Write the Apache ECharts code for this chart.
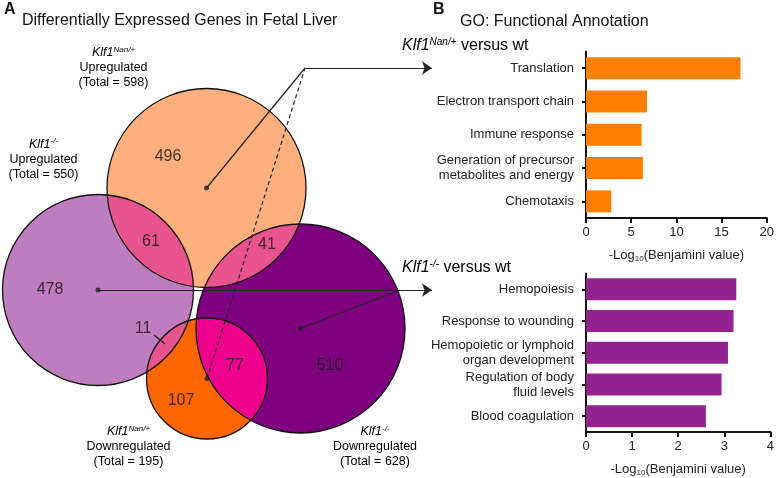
<!DOCTYPE html>
<html><head><meta charset="utf-8">
<script src="https://cdn.jsdelivr.net/npm/echarts@6/dist/echarts.min.js"></script>
<style>html,body{margin:0;padding:0;background:#fff}#c{width:777px;height:478px}</style>
</head><body><div id="c"></div>
<script>
// ---- Venn data (diagram units) ----
const vennCircles = [[206.5,188,99.5],[98,290,95.5],[300.5,328.5,104.5],[207,378.5,60.5]]; // [cx, cy, r]
const vennColors = ['#FDAF7E','#BE7DBE','#7F007F','#FF6600'];
const vennOverlaps = [[0,1],[0,2],[1,3],[2,3]];
const overlapColors = ['#E9548C','#E9548C','#E9548C','#EC008C'];
const regionCounts = [496,61,41,478,11,77,510,107];
const regionPos = [[168,157],[151,242],[267,245],[50,290],[143,329],[235,366],[330,366],[181,401]];
const arrowPaths = [[[305,68],[432,68]], [[98,290],[432,290]]];
const plainPaths = [[[206.5,188],[305,68]], [[300.5,328.5],[400,290]], [[154,335],[165,344]]];
const dashedPaths = [[[207,378.5],[305,68]]];

// ---- Bar data ----
const catNan = ['Translation','Electron transport chain','Immune response','Generation of precursor\nmetabolites and energy','Chemotaxis'];
const valNan = [17.1,6.75,6.15,6.3,2.8];
const catKo = ['Hemopoiesis','Response to wounding','Hemopoietic or lymphoid\norgan development','Regulation of body\nfluid levels','Blood coagulation'];
const valKo = [3.26,3.2,3.08,2.94,2.6];
const ticksNan = [0,5,10,15,20];
const ticksKo = [0,1,2,3,4];

const FF = "'Liberation Sans', Arial, Helvetica, sans-serif";
const chart = echarts.init(document.getElementById('c'));

function lensPoints(a, b, api) {
  const pa = api.coord([a[0], a[1]]), pb = api.coord([b[0], b[1]]);
  const r1 = api.size([a[2], a[2]])[0], r2 = api.size([b[2], b[2]])[0];
  const dx = pb[0]-pa[0], dy = pb[1]-pa[1];
  const d = Math.sqrt(dx*dx+dy*dy);
  const th = Math.atan2(dy, dx);
  const al = Math.acos((d*d + r1*r1 - r2*r2)/(2*d*r1));
  const be = Math.acos((d*d + r2*r2 - r1*r1)/(2*d*r2));
  const pts = [], N = 60;
  for (let k=0;k<=N;k++){ const t = th-al + 2*al*k/N; pts.push([pa[0]+r1*Math.cos(t), pa[1]+r1*Math.sin(t)]); }
  for (let k=0;k<=N;k++){ const t = th+Math.PI-be + 2*be*k/N; pts.push([pb[0]+r2*Math.cos(t), pb[1]+r2*Math.sin(t)]); }
  return pts;
}

function circleRender(fillMode) {
  return function (params, api) {
    const p = api.coord([api.value(0), api.value(1)]);
    const r = api.size([api.value(2), api.value(2)])[0];
    return {type:'circle', shape:{cx:p[0], cy:p[1], r:r},
      style: fillMode ? {fill: vennColors[params.dataIndex], stroke:null} : {fill:'none', stroke:'#111', lineWidth:1.3}};
  };
}

const axisBase = {
  axisLine:{show:true, lineStyle:{color:'#111', width:2}},
  axisTick:{show:true, length:5, lineStyle:{color:'#111', width:2}},
  splitLine:{show:false}
};
const nameRich = {
  n:{fontSize:13, fontFamily:FF, color:'#222', lineHeight:15},
  sub:{fontSize:8, fontFamily:FF, color:'#222', lineHeight:7, verticalAlign:'bottom'}
};
const axisName = '{n|-Log}{sub|10}{n|(Benjamini value)}';

function supLabel(x, y, sup, lines, size, lh, supSize) {
  let t = '{i|Klf1}{s|' + sup + '}';
  lines.forEach(l => { t += '\n{n|' + l + '}'; });
  return {type:'text', x:x, y:y, z:100, style:{text:t, align:'center', textAlign:'center', verticalAlign:'middle', textVerticalAlign:'middle',
    rich:{
      i:{fontSize:size, fontStyle:'italic', fontFamily:FF, color:'#111', lineHeight:lh},
      s:{fontSize:supSize, fontStyle:'italic', fontFamily:FF, color:'#111', lineHeight:Math.round(lh/2), verticalAlign:'top'},
      n:{fontSize:size, fontFamily:FF, color:'#111', lineHeight:lh}
    }}};
}
function headLabel(x, y, sup) {
  return {type:'text', x:x, y:y, z:100, style:{text:'{i|Klf1}{s|' + sup + '}{n| versus wt}', align:'left', textAlign:'left', verticalAlign:'middle', textVerticalAlign:'middle',
    rich:{
      i:{fontSize:16, fontStyle:'italic', fontFamily:FF, color:'#111', lineHeight:18},
      s:{fontSize:10, fontStyle:'italic', fontFamily:FF, color:'#111', lineHeight:9, verticalAlign:'top'},
      n:{fontSize:16, fontFamily:FF, color:'#111', lineHeight:18}
    }}};
}
function plainText(x, y, text, font) {
  return {type:'text', x:x, y:y, z:100, style:{text:text, font:font, fill:'#111', align:'left', textAlign:'left', verticalAlign:'middle', textVerticalAlign:'middle'}};
}

const option = {
  backgroundColor:'#fff',
  animation:false,
  grid:[
    {left:0, top:0, width:777, height:478},
    {left:586, top:51.5, width:188, height:166.5},
    {left:586, top:273.5, width:188, height:165.5}
  ],
  xAxis:[
    {gridIndex:0, type:'value', min:0, max:777, show:false},
    Object.assign({gridIndex:1, type:'value', min:ticksNan[0], max:ticksNan[ticksNan.length-1], interval:ticksNan[1]-ticksNan[0],
      axisLabel:{color:'#222', fontSize:13, fontFamily:FF, margin:8},
      name:axisName, nameLocation:'middle', nameGap:30, nameTextStyle:{rich:nameRich, fontSize:13, fontFamily:FF, color:'#222', lineHeight:15}}, axisBase),
    Object.assign({gridIndex:2, type:'value', min:ticksKo[0], max:ticksKo[ticksKo.length-1], interval:ticksKo[1]-ticksKo[0],
      axisLabel:{color:'#222', fontSize:13, fontFamily:FF, margin:8},
      name:axisName, nameLocation:'middle', nameGap:30, nameTextStyle:{rich:nameRich, fontSize:13, fontFamily:FF, color:'#222', lineHeight:15}}, axisBase)
  ],
  yAxis:[
    {gridIndex:0, type:'value', min:0, max:478, inverse:true, show:false},
    Object.assign({}, axisBase, {gridIndex:1, type:'category', data:catNan, inverse:true,
      axisTick:{show:true, alignWithLabel:true, length:4, lineStyle:{color:'#111', width:2}},
      axisLabel:{color:'#222', fontSize:13, fontFamily:FF, margin:12, lineHeight:15}}),
    Object.assign({}, axisBase, {gridIndex:2, type:'category', data:catKo, inverse:true,
      axisTick:{show:true, alignWithLabel:true, length:4, lineStyle:{color:'#111', width:2}},
      axisLabel:{color:'#222', fontSize:13, fontFamily:FF, margin:12, lineHeight:15}})
  ],
  series:[
    {type:'custom', xAxisIndex:0, yAxisIndex:0, z:1, renderItem:circleRender(true), data:vennCircles, silent:true},
    {type:'custom', xAxisIndex:0, yAxisIndex:0, z:2, silent:true, data:vennOverlaps.map((o,i)=>[o[0],o[1],i]),
      renderItem:function(params, api){
        const o = vennOverlaps[params.dataIndex];
        return {type:'polygon', shape:{points:lensPoints(vennCircles[o[0]], vennCircles[o[1]], api)}, style:{fill:overlapColors[params.dataIndex], stroke:null}};
      }},
    {type:'custom', xAxisIndex:0, yAxisIndex:0, z:3, renderItem:circleRender(false), data:vennCircles, silent:true},
    {type:'lines', coordinateSystem:'cartesian2d', xAxisIndex:0, yAxisIndex:0, z:4, silent:true,
      symbol:['none','arrow'], symbolSize:10, lineStyle:{color:'#222', width:1.2, opacity:1, curveness:0},
      data:arrowPaths.map(c=>({coords:c}))},
    {type:'lines', coordinateSystem:'cartesian2d', xAxisIndex:0, yAxisIndex:0, z:4, silent:true,
      symbol:['none','none'], lineStyle:{color:'#222', width:1.2, opacity:1, curveness:0},
      data:plainPaths.map(c=>({coords:c}))},
    {type:'lines', coordinateSystem:'cartesian2d', xAxisIndex:0, yAxisIndex:0, z:4, silent:true,
      symbol:['none','none'], lineStyle:{color:'#222', width:1.2, type:[4,3], opacity:1, curveness:0},
      data:dashedPaths.map(c=>({coords:c}))},
    {type:'scatter', xAxisIndex:0, yAxisIndex:0, z:5, silent:true, symbolSize:5, itemStyle:{color:'#222'},
      data:vennCircles.map(c=>[c[0],c[1]])},
    {type:'scatter', xAxisIndex:0, yAxisIndex:0, z:6, silent:true, symbolSize:1, itemStyle:{color:'rgba(0,0,0,0)'},
      label:{show:true, position:'inside', formatter:p=>String(p.value[2]), fontSize:16, fontFamily:FF, color:'#111'},
      data:regionPos.map((p,i)=>[p[0],p[1],regionCounts[i]])},
    {type:'bar', xAxisIndex:1, yAxisIndex:1, data:valNan, barWidth:22, itemStyle:{color:'#FF8000'}},
    {type:'bar', xAxisIndex:2, yAxisIndex:2, data:valKo, barWidth:22, itemStyle:{color:'#93218F'}}
  ],
  graphic:[
    plainText(4, 10, 'A', 'bold 16px ' + FF),
    plainText(22, 21, 'Differentially Expressed Genes in Fetal Liver', '16px ' + FF),
    plainText(433, 10, 'B', 'bold 16px ' + FF),
    plainText(460, 22, 'GO: Functional Annotation', '16px ' + FF),
    headLabel(402, 46, 'Nan/+'),
    headLabel(402, 268, '-/-'),
    supLabel(113.5, 68, 'Nan/+', ['Upregulated','(Total = 598)'], 12.5, 15, 8),
    supLabel(43.5, 159.5, '-/-', ['Upregulated','(Total = 550)'], 12.5, 15, 8),
    supLabel(128.5, 447, 'Nan/+', ['Downregulated','(Total = 195)'], 12.5, 15, 8),
    supLabel(375, 447, '-/-', ['Downregulated','(Total = 628)'], 12.5, 15, 8)
  ]
};
chart.setOption(option);
</script></body></html>
